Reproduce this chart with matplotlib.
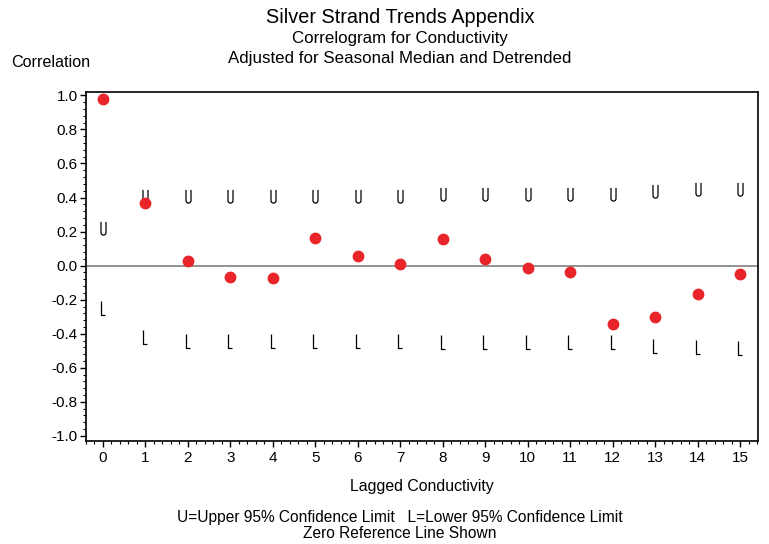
import numpy as np
import matplotlib
matplotlib.use("Agg")
import matplotlib.pyplot as plt
from matplotlib.path import Path
from matplotlib.ticker import MultipleLocator, FormatStrFormatter

plt.rcParams['font.family'] = ['Liberation Sans', 'DejaVu Sans']

lags = list(range(16))
corr = [0.98, 0.37, 0.03, -0.065, -0.07, 0.165, 0.055, 0.01, 0.155, 0.04,
        -0.015, -0.035, -0.345, -0.30, -0.165, -0.05]
upper = [0.22, 0.41, 0.41, 0.41, 0.41, 0.41, 0.41, 0.41, 0.42, 0.42,
         0.42, 0.42, 0.42, 0.44, 0.45, 0.45]
lower = [-0.25, -0.42, -0.44, -0.44, -0.44, -0.44, -0.44, -0.44, -0.45, -0.45,
         -0.45, -0.45, -0.45, -0.47, -0.48, -0.485]

# thin U / L glyph markers
t = np.linspace(np.pi, 2 * np.pi, 12)
u_verts = [(-0.19, 0.5), (-0.19, -0.31)] + [(0.19 * np.cos(a), -0.31 + 0.19 * np.sin(a)) for a in t] + [(0.19, 0.5)]
U_MARK = Path(u_verts)
L_MARK = Path([(-0.13, 0.5), (-0.13, -0.5), (0.17, -0.5)])

fig = plt.figure(figsize=(7.69, 5.44), dpi=100)
ax = fig.add_axes([0.1118, 0.1893, 0.874, 0.6416])

ax.axhline(0, color='#808080', lw=1.2, zorder=1)
ax.plot(lags, upper, ls='none', marker=U_MARK, ms=9.5, mfc='none', mec='black', mew=0.9)
ax.plot(lags, lower, ls='none', marker=L_MARK, ms=9.5, mfc='none', mec='black', mew=0.9)
ax.plot(lags, corr, ls='none', marker='o', ms=7.5, color='#e8262a', mec='#e8262a')

ax.set_xlim(-0.4, 15.42)
ax.set_ylim(-1.03, 1.02)
ax.xaxis.set_major_locator(MultipleLocator(1))
ax.xaxis.set_minor_locator(MultipleLocator(0.2))
ax.yaxis.set_major_locator(MultipleLocator(0.2))
ax.yaxis.set_minor_locator(MultipleLocator(0.04))
ax.yaxis.set_major_formatter(FormatStrFormatter('%.1f'))
ax.tick_params(which='major', length=4, width=1, labelsize=11, direction='out')
ax.tick_params(axis='y', which='major', pad=2)
ax.tick_params(which='minor', length=2, width=0.8, direction='out')
for s in ax.spines.values():
    s.set_linewidth(1.2)

ax.set_xlabel('Lagged Conductivity', fontsize=11.4, labelpad=10)

fig.text(0.52, 0.968, 'Silver Strand Trends Appendix', ha='center', va='center', fontsize=14.3)
fig.text(0.52, 0.930, 'Correlogram for Conductivity', ha='center', va='center', fontsize=12.2)
fig.text(0.52, 0.893, 'Adjusted for Seasonal Median and Detrended', ha='center', va='center', fontsize=12.2)
fig.text(0.015, 0.886, 'Correlation', ha='left', va='center', fontsize=11.6)
fig.text(0.52, 0.049, 'U=Upper 95% Confidence Limit   L=Lower 95% Confidence Limit',
         ha='center', va='center', fontsize=11.2)
fig.text(0.52, 0.020, 'Zero Reference Line Shown', ha='center', va='center', fontsize=11.2)

fig.savefig('out.png', dpi=100)
